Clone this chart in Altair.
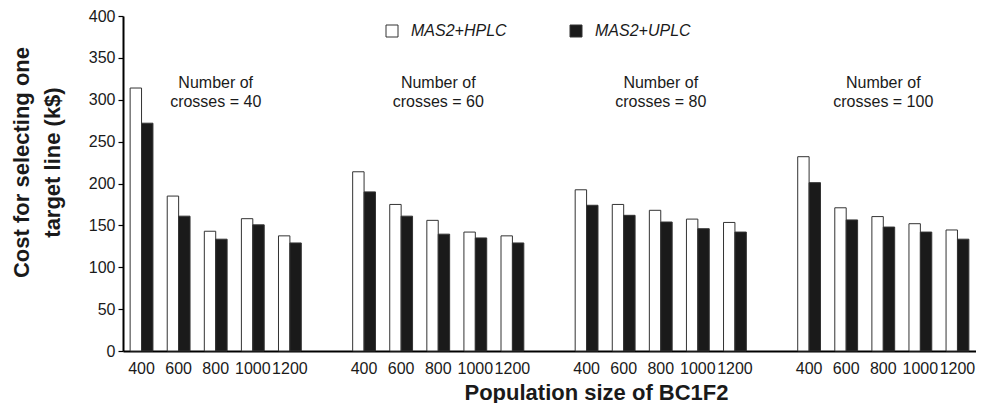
import altair as alt
import pandas as pd

crosses = ["40", "60", "80", "100"]
pops = ["400", "600", "800", "1000", "1200"]
series = ["MAS2+HPLC", "MAS2+UPLC"]
hplc = [314, 185, 143, 158, 137.5,
        214, 175, 156, 142, 137.5,
        192.5, 175, 168, 157.5, 153.5,
        232, 171, 160.5, 152, 144.5]
uplc = [272, 161, 133.5, 150.6, 129,
        190, 161, 139.5, 135, 129,
        174, 162, 154, 146, 142,
        201, 156.5, 148, 142, 133.5]
annot = ["Number of\ncrosses = 40", "Number of\ncrosses = 60",
         "Number of\ncrosses = 80", "Number of\ncrosses = 100"]

rows = []
domain = []
i = 0
for gi, c in enumerate(crosses):
    for p in pops:
        key = f"{c}_{p}"
        domain.append(key)
        rows.append({"slot": key, "series": series[0], "cost": hplc[i]})
        rows.append({"slot": key, "series": series[1], "cost": uplc[i]})
        i += 1
    if gi < len(crosses) - 1:
        domain.append(f"gap{gi}_")
df = pd.DataFrame(rows)
ann = pd.DataFrame({"slot": [f"{c}_800" for c in crosses], "text": annot})

FONT = "Liberation Sans"
TXT = "#1a1a1a"

x = alt.X("slot:N", sort=domain,
          scale=alt.Scale(domain=domain, paddingInner=0.385, paddingOuter=0.1925),
          axis=alt.Axis(title="Population size of BC1F2", labelExpr="split(datum.value, '_')[1]",
                        labelAngle=0, ticks=False, labelPadding=9, labelFontSize=16,
                        labelFont=FONT, labelColor=TXT, domainColor="#000", domainWidth=2,
                        titleFont=FONT, titleFontSize=22, titleFontWeight="bold", titleColor=TXT,
                        titleX=473, titleY=48, titleBaseline="alphabetic", titleAnchor="start",
                        titleAlign="center", labelOverlap=False, grid=False))

bars = alt.Chart(df).mark_bar(stroke="#333", strokeWidth=1).encode(
    x=x,
    xOffset=alt.XOffset("series:N", sort=series, scale=alt.Scale(paddingInner=0, paddingOuter=0)),
    y=alt.Y("cost:Q", scale=alt.Scale(domain=[0, 400], nice=False),
            axis=alt.Axis(values=list(range(0, 401, 50)), grid=False, tickSize=5, tickColor="#000",
                          tickWidth=1.2, domainColor="#000", domainWidth=2, labelPadding=3,
                          labelFontSize=16, labelFont=FONT, labelColor=TXT,
                          title=["Cost for selecting one", "target line (k$)"],
                          titleFont=FONT, titleFontSize=22, titleFontWeight="bold", titleColor=TXT,
                          titleX=-102, titleY=146, titleBaseline="middle", titleAlign="center",
                          titleAnchor="start", titleLineHeight=31)),
    color=alt.Color("series:N", sort=series,
                    scale=alt.Scale(domain=series, range=["#ffffff", "#1a1a1a"]),
                    legend=alt.Legend(title=None, orient="none", direction="horizontal",
                                      legendX=261, legendY=7, symbolType="square", symbolSize=144,
                                      symbolStrokeColor="#333", symbolStrokeWidth=1,
                                      labelFont=FONT, labelFontSize=16, labelFontStyle="italic",
                                      labelColor=TXT, labelOffset=11, columnPadding=61, padding=0)),
)

texts = alt.Chart(ann).mark_text(font=FONT, fontSize=16, color=TXT, lineBreak="\n",
                                  lineHeight=18.5, baseline="middle", align="center").encode(
    x=alt.X("slot:N", sort=domain, scale=alt.Scale(domain=domain)),
    y=alt.datum(320),
    text="text:N",
)

chart = alt.layer(bars, texts).properties(
    width=853, height=335,
    background="white",
    autosize=alt.AutoSizeParams(type="none"),
    padding={"left": 115, "top": 8, "right": 0, "bottom": 52},
).configure_view(strokeWidth=0, stroke="transparent").configure_axis(grid=False)

chart.save("out.html", embed_options={"renderer": "svg", "actions": False})
